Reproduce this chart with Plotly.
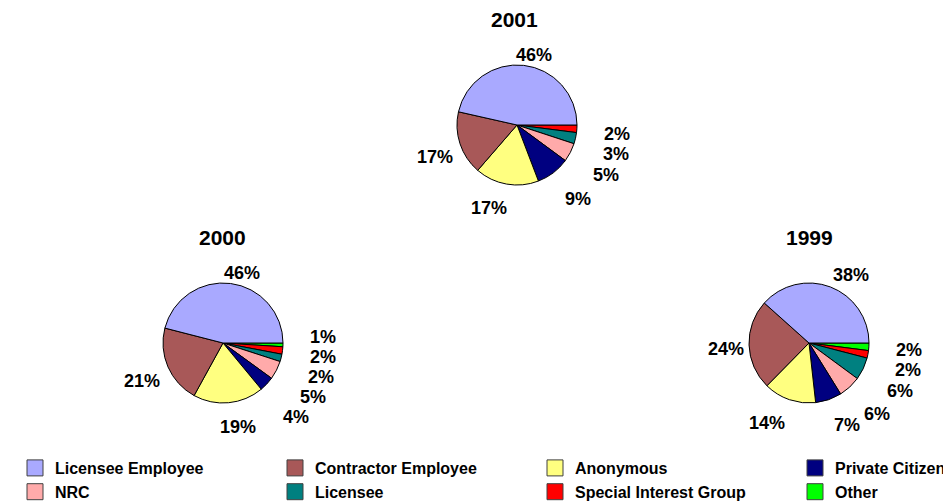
import math
import plotly.graph_objects as go

categories = ["Licensee Employee", "Contractor Employee", "Anonymous", "Private Citizen",
              "NRC", "Licensee", "Special Interest Group", "Other"]
colors = ["#A9A9FF", "#A85858", "#FFFF80", "#000080", "#FFAAAA", "#008080", "#FF0000", "#00FF00"]

years = ["2001", "2000", "1999"]
values_2001 = [46, 17, 17, 9, 5, 3, 2, 0]
values_2000 = [46, 21, 19, 4, 5, 2, 2, 1]
values_1999 = [38, 24, 14, 7, 6, 6, 2, 2]
all_values = [values_2001, values_2000, values_1999]

# page is 951x504; the html body has an 8px margin, so the figure is 8px smaller on each side
OFF = 8
W, H = 951 - OFF, 504 - OFF
FONT = "Liberation Sans, Arial, sans-serif"
# layout in page pixels: pie centres, radius, title positions
centers = [(517, 125), (223, 343), (809, 343)]
R = 60
title_pos = [(514, 20), (222, 238), (809, 238)]
LBL_SIZE = 18
MIN_SPACING = 20
Y_BIAS = 3


def px2paper(x, y):
    return (x - OFF) / W, 1 - (y - OFF) / H


def clip(v):
    return max(-1.0, min(1.0, v))


fig = go.Figure()
for i, (yr, vals) in enumerate(zip(years, all_values)):
    cx, cy = centers[i]
    x0, y1 = px2paper(cx - R, cy - R)
    x1, y0 = px2paper(cx + R, cy + R)
    # slices run counter-clockwise from 3 o'clock: draw the reversed order clockwise
    fig.add_trace(go.Pie(
        labels=categories[::-1], values=vals[::-1], sort=False, direction="clockwise",
        rotation=90,
        marker=dict(colors=colors[::-1], line=dict(color="black", width=1)),
        textinfo="none",
        domain=dict(x=[x0, x1], y=[y0, y1]),
        showlegend=False,
        hoverinfo="label+value",
    ))
    tx, ty = px2paper(*title_pos[i])
    fig.add_annotation(text=yr, x=tx, y=ty, xref="paper", yref="paper", showarrow=False,
                       xanchor="center", yanchor="middle",
                       font=dict(family=FONT, size=21, color="black", weight="bold"))

    # data labels placed outside each slice, positions derived from the values
    total = sum(vals)
    cum = 0.0
    labels = []
    for v in vals:
        if v <= 0:
            continue
        mid = (cum + v / 2) / total
        cum += v
        th = 2 * math.pi * mid
        c, s = math.cos(th), math.sin(th)
        txt = f"{v}%"
        w = 0.556 * LBL_SIZE * (len(txt) - 1) + 0.889 * LBL_SIZE
        h = 16
        g = 5 + 22 * max(0.0, c) ** 2 + 8 * max(0.0, -s)
        d = R + g
        lx = cx + d * c + clip(5 * c) * w / 2
        ly = cy - d * s - clip(3 * s) * h / 2 + Y_BIAS
        labels.append([lx, ly, c, txt])
    # push apart labels that would overlap vertically on each side
    for side in (1, -1):
        grp = sorted([l for l in labels if l[2] * side > 0.2], key=lambda l: l[1])
        for _ in range(200):
            for a, b in zip(grp, grp[1:]):
                gap = b[1] - a[1]
                if gap < MIN_SPACING and abs(b[0] - a[0]) < 30:
                    delta = (MIN_SPACING - gap) / 2
                    a[1] -= delta
                    b[1] += delta
    for lx, ly, c, txt in labels:
        ax, ay = px2paper(lx, ly)
        fig.add_annotation(text=txt, x=ax, y=ay, xref="paper", yref="paper",
                           showarrow=False, xanchor="center", yanchor="middle",
                           font=dict(family=FONT, size=LBL_SIZE, color="black", weight="bold"))

# legend entries (4 columns x 2 rows)
legend_cols = [[0, 4], [1, 5], [2, 6], [3, 7]]
col_width = [215, 215, 215, 117]
for ci, col in enumerate(legend_cols):
    for k in col:
        fig.add_trace(go.Scatter(
            x=[None], y=[None], mode="markers", name=categories[k],
            marker=dict(symbol="square", size=16, color=colors[k],
                        line=dict(color="#404040", width=1)),
            legendgroup=f"c{ci}", legendwidth=col_width[ci], showlegend=True,
            hoverinfo="skip",
        ))

lgx, lgy = px2paper(15, 451)
fig.update_layout(
    width=W, height=H, margin=dict(l=0, r=0, t=0, b=0, autoexpand=False),
    paper_bgcolor="white", plot_bgcolor="rgba(0,0,0,0)",
    xaxis=dict(visible=False), yaxis=dict(visible=False),
    legend=dict(orientation="h", x=lgx, y=lgy, xanchor="left", yanchor="top",
                traceorder="grouped", tracegroupgap=0, itemsizing="trace",
                font=dict(family=FONT, size=16, color="black", weight="bold"),
                bgcolor="rgba(0,0,0,0)"),
)
fig.write_html("out.html")
